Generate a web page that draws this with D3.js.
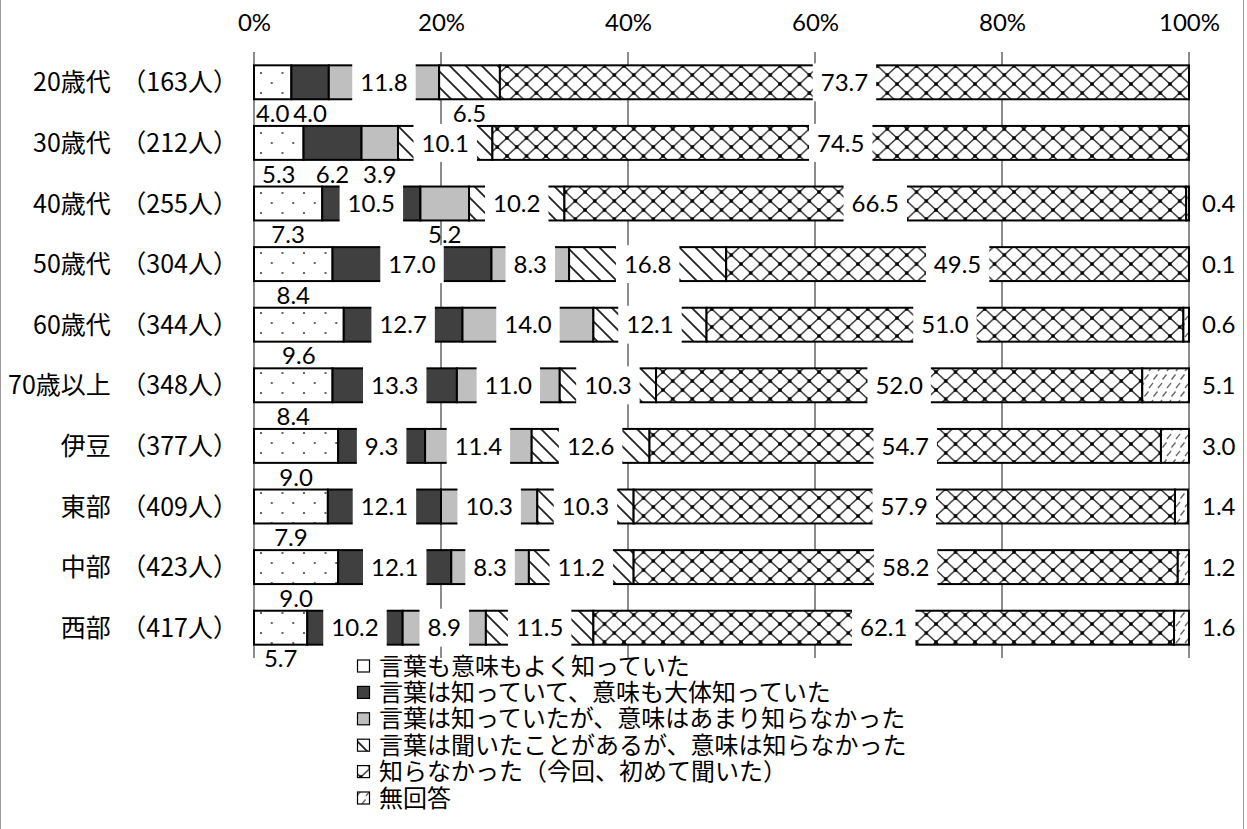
<!DOCTYPE html>
<html><head><meta charset="utf-8">
<script src="https://cdn.jsdelivr.net/npm/d3@7"></script>
<style>body{margin:0;background:#fff} svg{display:block}</style>
</head><body><svg id="c" width="1247" height="829"></svg>
<script>
const categories = ["20歳代 （163人）","30歳代 （212人）","40歳代 （255人）","50歳代 （304人）","60歳代 （344人）","70歳以上 （348人）","伊豆 （377人）","東部 （409人）","中部 （423人）","西部 （417人）"];
const seriesNames = ["言葉も意味もよく知っていた","言葉は知っていて、意味も大体知っていた","言葉は知っていたが、意味はあまり知らなかった","言葉は聞いたことがあるが、意味は知らなかった","知らなかった（今回、初めて聞いた）","無回答"];
const knewWell   = [4.0,5.3,7.3,8.4,9.6,8.4,9.0,7.9,9.0,5.7];
const knewRoughly= [4.0,6.2,10.5,17.0,12.7,13.3,9.3,12.1,12.1,10.2];
const knewWord   = [11.8,3.9,5.2,8.3,14.0,11.0,11.4,10.3,8.3,8.9];
const heardOnly  = [6.5,10.1,10.2,16.8,12.1,10.3,12.6,10.3,11.2,11.5];
const didNotKnow = [73.7,74.5,66.5,49.5,51.0,52.0,54.7,57.9,58.2,62.1];
const noAnswer   = [0,0,0.4,0.1,0.6,5.1,3.0,1.4,1.2,1.6];
const tickValues = [0,20,40,60,80,100];
const tickLabels = ["0%","20%","40%","60%","80%","100%"];
// label placement: b = below bar, c = centred on segment, r = right of bar
const labelPlacement = [
  ["b","b","c","b","c","r"],
  ["b","b","b","c","c","r"],
  ["b","c","b","c","c","r"],
  ["b","c","c","c","c","r"],
  ["b","c","c","c","c","r"],
  ["b","c","c","c","c","r"],
  ["b","c","c","c","c","r"],
  ["b","c","c","c","c","r"],
  ["b","c","c","c","c","r"],
  ["b","c","c","c","c","r"]
];

const seriesArrays = [knewWell,knewRoughly,knewWord,heardOnly,didNotKnow,noAnswer];
const keys = seriesNames.map((d,i)=>"s"+i);
const table = categories.map((c,r)=>{const o={cat:c,row:r}; keys.forEach((k,i)=>o[k]=seriesArrays[i][r]); return o;});

const svg = d3.select("#c");
const defs = svg.append("defs");
const numFont = "Lato, 'Noto Sans', sans-serif";
const jpFont = "'Noto Sans CJK JP', sans-serif";

function pat(id,w,h,x,y){
  const p = defs.append("pattern").attr("id",id).attr("patternUnits","userSpaceOnUse")
    .attr("width",w).attr("height",h).attr("x",x).attr("y",y);
  p.append("rect").attr("width",w).attr("height",h).attr("fill","#fff");
  return p;
}
const p0 = pat("p0",21.5,20,260,72);
p0.append("rect").attr("x",0).attr("y",0).attr("width",2).attr("height",2).attr("fill","#666");
p0.append("rect").attr("x",10.75).attr("y",10).attr("width",2).attr("height",2).attr("fill","#666");
const p3 = pat("p3",16,16,0,0);
p3.append("path").attr("d","M-4,-4L20,20M-4,12L4,20M12,-4L20,4").attr("stroke","#222").attr("stroke-width",1.8);
const p4 = pat("p4",19.5,18,0,66);
p4.append("path").attr("d","M0,0L19.5,18M19.5,0L0,18").attr("stroke","#333").attr("stroke-width",1.4);
[[0,0],[19.5,0],[0,18],[19.5,18],[9.75,9]].forEach(([x,y])=>p4.append("rect").attr("x",x-1.7).attr("y",y-1.7).attr("width",3.4).attr("height",3.4).attr("fill","#000"));
const p5 = pat("p5",9,17,0,66);
p5.append("path").attr("d","M1.5,7.5L5.5,2.5M6,16L10,11M-3,16L1,11").attr("stroke","#666").attr("stroke-width",1.4);

const fills = ["url(#p0)","#404040","#bfbfbf","url(#p3)","url(#p4)","url(#p5)"];

const x = d3.scaleLinear().domain([0,100]).range([254,1189]).clamp(true);
const y = d3.scaleBand().domain(categories).range([52,658]).paddingInner(0.44).paddingOuter(0.22);

svg.append("rect").attr("x",0.5).attr("y",-3).attr("width",1243).attr("height",836)
  .attr("fill","none").attr("stroke","#999").attr("stroke-width",1);

svg.append("g").selectAll("line").data(tickValues.slice(1)).join("line")
  .attr("x1",d=>x(d)).attr("x2",d=>x(d)).attr("y1",52).attr("y2",658)
  .attr("stroke","#8c8c8c").attr("stroke-width",2);
svg.append("line").attr("x1",x(0)).attr("x2",x(0)).attr("y1",52).attr("y2",658)
  .attr("stroke","#8c8c8c").attr("stroke-width",2);

const axis = d3.axisTop(x).tickValues(tickValues).tickFormat((d,i)=>tickLabels[i]).tickSize(0).tickPadding(0);
const ag = svg.append("g").attr("transform","translate(0,31)").call(axis);
ag.select(".domain").remove();
ag.selectAll("text").attr("font-family",numFont).attr("font-size",24).attr("fill","#000");

// category labels (name + count part)
const cl = svg.append("g").selectAll("text").data(categories).join("text")
  .attr("x",238).attr("y",d=>y(d)+y.bandwidth()/2).attr("dy","0.36em")
  .attr("text-anchor","end").attr("font-family",jpFont).attr("font-size",25).attr("fill","#000");
cl.each(function(d){
  const parts = d.split(" ");
  const t = d3.select(this);
  t.append("tspan").text(parts[0]+" ");
  t.append("tspan").attr("dx",5).text(parts[1]);
});

const stack = d3.stack().keys(keys)(table);
const bh = y.bandwidth();
stack.forEach((layer,i)=>{
  svg.append("g").selectAll("rect").data(layer.filter(d=>d[1]-d[0]>0)).join("rect")
    .attr("x",d=>x(d[0])).attr("width",d=>x(d[1])-x(d[0]))
    .attr("y",d=>y(d.data.cat)).attr("height",bh)
    .attr("fill",fills[i]).attr("stroke","#000").attr("stroke-width",2);
});

const lg = svg.append("g");
stack.forEach((layer,i)=>{
  layer.forEach(d=>{
    const v = d.data[keys[i]];
    if(!(v>0)) return;
    const mode = labelPlacement[d.data.row][i];
    const cy = y(d.data.cat)+bh/2;
    let cx, anchor="middle", ty=cy;
    if(mode==="c"){ cx=(x(d[0])+x(d[1]))/2; }
    else if(mode==="b"){ cx=(x(d[0])+x(d[1]))/2; ty=y(d.data.cat)+bh+14; }
    else { cx=x(100)+13; anchor="start"; }
    const g = lg.append("g");
    const box = g.append("rect").attr("fill","#fff");
    const t = g.append("text").attr("x",cx).attr("y",ty).attr("dy","0.36em").attr("text-anchor",anchor)
      .attr("font-family",numFont).attr("font-size",24).attr("fill","#000")
      .text(v.toFixed(1));
    if(mode==="c"){
      const w = t.node().getComputedTextLength()+16;
      box.attr("x",cx-w/2).attr("width",w).attr("y",y(d.data.cat)-2).attr("height",bh+4);
    } else box.remove();
  });
});

const leg = svg.append("g");
seriesNames.forEach((n,i)=>{
  const cy = 666 + i*26.4;
  leg.append("rect").attr("x",357.5).attr("y",cy-6).attr("width",12).attr("height",12)
    .attr("fill",i===0?"#fff":fills[i]).attr("stroke","#000").attr("stroke-width",1.2);
  leg.append("text").attr("x",379).attr("y",cy).attr("dy","0.36em")
    .attr("font-family",jpFont).attr("font-size",24).attr("fill","#000").text(n);
});
</script></body></html>
